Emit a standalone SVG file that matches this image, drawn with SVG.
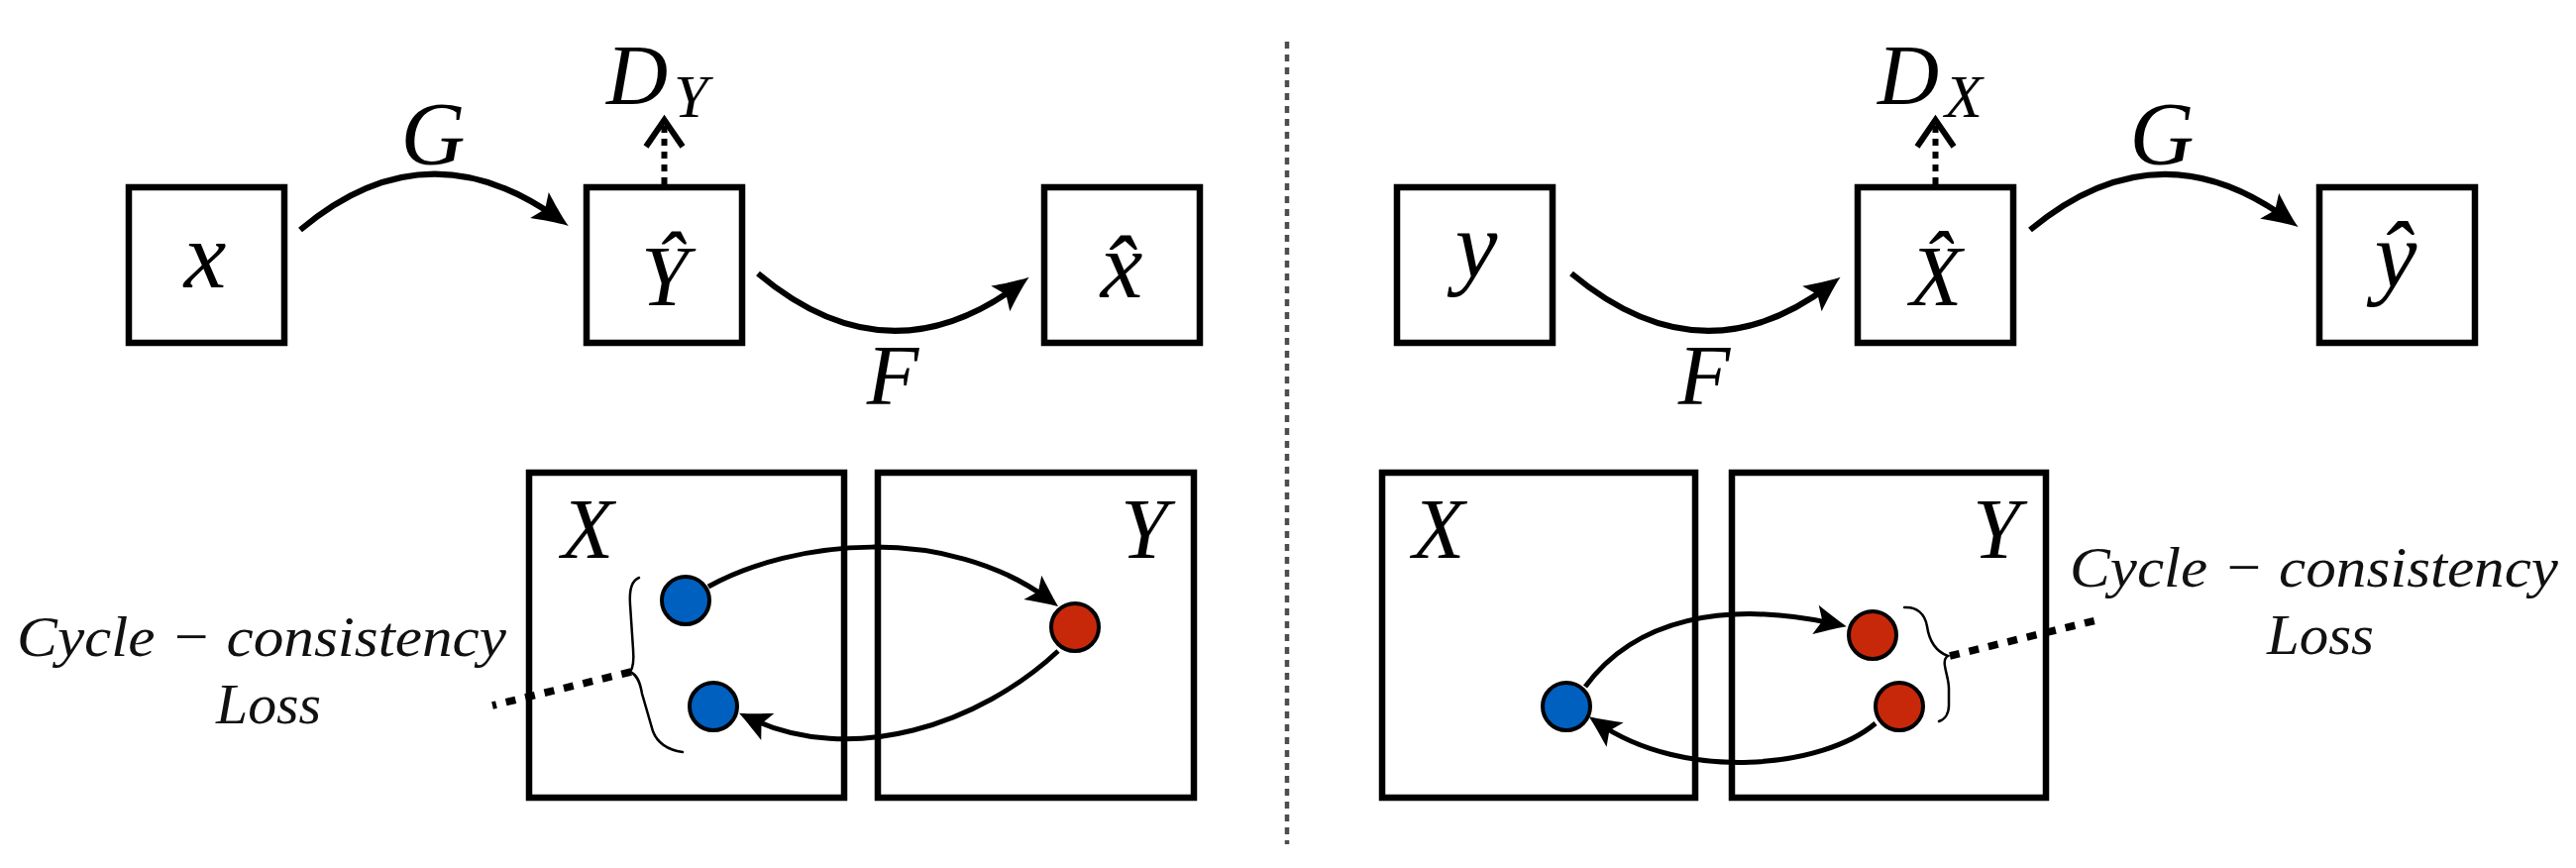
<svg xmlns="http://www.w3.org/2000/svg" width="2600" height="876" viewBox="0 0 2600 876">
<defs>
<style>
.box{fill:#fff;stroke:#000;stroke-width:6.5}
.arc{fill:none;stroke:#000;stroke-width:6;marker-end:url(#ah)}
.arc2{fill:none;stroke:#000;stroke-width:5;marker-end:url(#ah2)}
.dash{fill:none;stroke:#000;stroke-width:6;stroke-dasharray:7 6}
.chev{fill:none;stroke:#000;stroke-width:6;stroke-linejoin:miter}
.lossline{fill:none;stroke:#000;stroke-width:7.5;stroke-dasharray:10 10}
.brace{fill:none;stroke:#000;stroke-width:2.5;stroke-linecap:round}
.blue{fill:#0060C0;stroke:#000;stroke-width:4}
.red{fill:#C8280A;stroke:#000;stroke-width:4}
.divider{stroke:#4d4d4d;stroke-width:4.5;stroke-dasharray:7 6}
</style>
<marker id="ah" markerUnits="userSpaceOnUse" viewBox="-28 -18 42 36" markerWidth="42" markerHeight="36" refX="0" refY="0" orient="auto">
<path d="M12,0 C0,-4 -14,-11 -24,-16 L-17,0 L-24,16 C-14,11 0,4 12,0 Z" fill="#000"/>
</marker>
<marker id="ah2" markerUnits="userSpaceOnUse" viewBox="-28 -18 42 36" markerWidth="42" markerHeight="36" refX="0" refY="0" orient="auto">
<path d="M10,0 C0,-4 -12,-10 -22,-15 L-15,0 L-22,15 C-12,10 0,4 10,0 Z" fill="#000"/>
</marker>
</defs>
<rect width="2600" height="876" fill="#fff"/>

<line class="divider" x1="1299" y1="42" x2="1299" y2="852"/>

<g font-family="Liberation Serif, Times New Roman, serif" font-style="italic" fill="#000">
<g id="node-x"><rect class="box" x="130" y="189" width="157" height="157"/><text x="207" y="290" font-size="96" text-anchor="middle">x</text></g>
<g id="node-Yhat"><rect class="box" x="592" y="189" width="157" height="157"/><text x="671" y="308" font-size="86" text-anchor="middle">Ŷ</text></g>
<g id="node-xhat"><rect class="box" x="1054" y="189" width="157" height="157"/><text x="1132" y="300" font-size="96" text-anchor="middle">x̂</text></g>
<g id="node-DY"><text font-size="86"><tspan x="612" y="105">D</tspan><tspan x="680" y="118" font-size="62">Y</tspan></text></g>

<g id="node-y"><rect class="box" x="1410" y="189" width="157" height="157"/><text x="1490" y="280" font-size="96" text-anchor="middle">y</text></g>
<g id="node-Xhat"><rect class="box" x="1875" y="189" width="157" height="157"/><text x="1954" y="308" font-size="86" text-anchor="middle">X̂</text></g>
<g id="node-yhat"><rect class="box" x="2341" y="189" width="157" height="157"/><text x="2418" y="290" font-size="96" text-anchor="middle">ŷ</text></g>
<g id="node-DX"><text font-size="86"><tspan x="1895" y="105">D</tspan><tspan x="1963" y="118" font-size="62">X</tspan></text></g>

<g id="domain-left-X"><rect class="box" x="534" y="477" width="318" height="328"/><text x="593" y="563" font-size="86" text-anchor="middle">X</text></g>
<g id="domain-left-Y"><rect class="box" x="886" y="477" width="319" height="328"/><text x="1155" y="563" font-size="86" text-anchor="middle">Y</text></g>
<g id="domain-right-X"><rect class="box" x="1395" y="477" width="316" height="328"/><text x="1452" y="563" font-size="86" text-anchor="middle">X</text></g>
<g id="domain-right-Y"><rect class="box" x="1748" y="477" width="317" height="328"/><text x="2015" y="563" font-size="86" text-anchor="middle">Y</text></g>

<g id="connectors">
<path class="arc" d="M303,232 Q430,125 564,221"/>
<text x="437" y="166" font-size="90" text-anchor="middle">G</text>
<path class="arc" d="M765,276 Q896,386 1029,287"/>
<text x="901" y="408" font-size="86" text-anchor="middle">F</text>
<path class="arc" d="M1586,276 Q1718,386 1848,287"/>
<text x="1720" y="408" font-size="86" text-anchor="middle">F</text>
<path class="arc" d="M2049,232 Q2178,125 2310,222"/>
<text x="2182" y="166" font-size="90" text-anchor="middle">G</text>
<line class="dash" x1="670.5" y1="186" x2="670.5" y2="124"/>
<polyline class="chev" points="652,148 670.5,121 689,148"/>
<line class="dash" x1="1953.5" y1="186" x2="1953.5" y2="124"/>
<polyline class="chev" points="1935,148 1953.5,121 1972,148"/>
<path class="arc2" d="M715,592 C800,545 955,528 1060,606"/>
<path class="arc2" d="M1068,657 C990,730 860,775 755,724"/>
<path class="arc2" d="M1600,693 C1650,625 1740,605 1854,630"/>
<path class="arc2" d="M1893,730 C1840,775 1700,790 1612,729"/>
<path class="brace" d="M645,583 C637,586 635,596 636,610 L639,655 C640,667 639,674 636,678 C643,681 646,688 648,700 L659,738 C664,751 675,757 689,759"/>
<path class="brace" d="M1922,613 C1935,612 1943,620 1945,632 C1947,646 1953,657 1966,662 C1958,667 1967,681 1967,695 L1967,712 C1967,720 1963,726 1957,728"/>
<line class="lossline" x1="637" y1="678" x2="497" y2="712"/>
<line class="lossline" x1="1968" y1="662" x2="2120" y2="625"/>
</g>

<g id="points-left">
<circle class="blue" cx="692" cy="606" r="24"/>
<circle class="blue" cx="720" cy="713" r="24"/>
<circle class="red" cx="1085" cy="633" r="24"/>
</g>
<g id="points-right">
<circle class="blue" cx="1581" cy="713" r="24"/>
<circle class="red" cx="1890" cy="641" r="24"/>
<circle class="red" cx="1917" cy="713" r="24"/>
</g>

<g id="label-loss-left" font-size="58" fill="#111">
<text x="17" y="662" textLength="494" lengthAdjust="spacingAndGlyphs">Cycle − consistency</text>
<text x="218" y="730" textLength="106" lengthAdjust="spacingAndGlyphs">Loss</text>
</g>
<g id="label-loss-right" font-size="58" fill="#111">
<text x="2089" y="592" textLength="493" lengthAdjust="spacingAndGlyphs">Cycle − consistency</text>
<text x="2288" y="660" textLength="108" lengthAdjust="spacingAndGlyphs">Loss</text>
</g>
</g>
</svg>
